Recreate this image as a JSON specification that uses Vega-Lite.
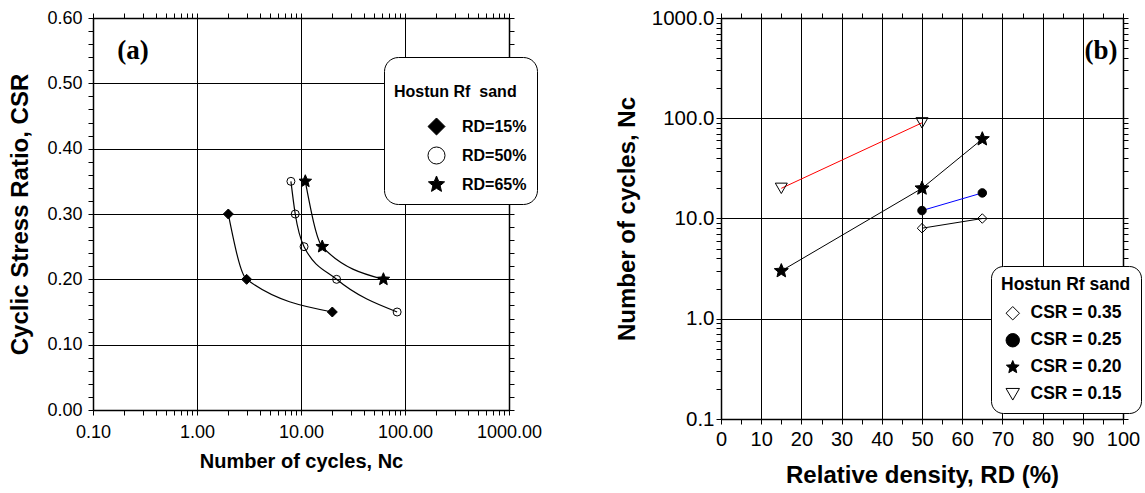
{
  "$schema": "https://vega.github.io/schema/vega-lite/v6.json",
  "padding": {"left": 8, "top": 8, "right": 5, "bottom": 5},
  "config": {
    "font": "Liberation Sans",
    "view": {"stroke": null},
    "axis": {
      "domainColor": "black", "domainWidth": 1.5,
      "tickColor": "black", "tickWidth": 1, "tickSize": 5,
      "gridColor": "black", "gridWidth": 1,
      "labelColor": "black", "titleColor": "black",
      "labelFont": "Liberation Sans", "titleFont": "Liberation Sans",
      "titleFontWeight": "bold", "labelFontWeight": "normal"
    },
    "legend": {
      "labelFont": "Liberation Sans", "titleFont": "Liberation Sans",
      "labelFontWeight": "bold", "titleFontWeight": "bold",
      "labelColor": "black", "titleColor": "black",
      "fillColor": "white", "strokeColor": "black",
      "symbolStrokeColor": "black", "symbolStrokeWidth": 1
    }
  },
  "datasets": {
    "cycles": [
      {"rd": "RD=15%", "nc": 2.0, "csr": 0.30},
      {"rd": "RD=15%", "nc": 3.0, "csr": 0.20},
      {"rd": "RD=15%", "nc": 20, "csr": 0.15},
      {"rd": "RD=50%", "nc": 8.0, "csr": 0.35},
      {"rd": "RD=50%", "nc": 8.8, "csr": 0.30},
      {"rd": "RD=50%", "nc": 10.7, "csr": 0.25},
      {"rd": "RD=50%", "nc": 22, "csr": 0.20},
      {"rd": "RD=50%", "nc": 84, "csr": 0.15},
      {"rd": "RD=65%", "nc": 11, "csr": 0.35},
      {"rd": "RD=65%", "nc": 16, "csr": 0.25},
      {"rd": "RD=65%", "nc": 62, "csr": 0.20}
    ],
    "density": [
      {"csr": "CSR = 0.35", "rd": 50, "nc": 8},
      {"csr": "CSR = 0.35", "rd": 65, "nc": 10},
      {"csr": "CSR = 0.25", "rd": 50, "nc": 12},
      {"csr": "CSR = 0.25", "rd": 65, "nc": 18},
      {"csr": "CSR = 0.20", "rd": 15, "nc": 3},
      {"csr": "CSR = 0.20", "rd": 50, "nc": 20},
      {"csr": "CSR = 0.20", "rd": 65, "nc": 62},
      {"csr": "CSR = 0.15", "rd": 15, "nc": 20},
      {"csr": "CSR = 0.15", "rd": 50, "nc": 90}
    ]
  },
  "resolve": {
    "scale": {"shape": "independent", "fill": "independent", "stroke": "independent", "size": "independent", "color": "independent"},
    "legend": {"shape": "independent", "fill": "independent", "stroke": "independent", "size": "independent", "color": "independent"}
  },
  "spacing": 73,
  "hconcat": [
    {
      "width": 416,
      "height": 392,
      "data": {"name": "cycles"},
      "layer": [
        {
          "mark": {"type": "line", "interpolate": "monotone", "color": "black", "strokeWidth": 1.2},
          "encoding": {
            "x": {
              "field": "nc", "type": "quantitative",
              "scale": {"type": "log", "domain": [0.1, 1000], "nice": false},
              "axis": {
                "orient": "bottom",
                "values": [0.1,0.2,0.3,0.4,0.5,0.6,0.7,0.8,0.9,1,2,3,4,5,6,7,8,9,10,20,30,40,50,60,70,80,90,100,200,300,400,500,600,700,800,900,1000],
                "labelExpr": "abs(log(datum.value)/LN10 - round(log(datum.value)/LN10)) < 0.001 ? format(datum.value, '.2f') : ''",
                "grid": true,
                "gridOpacity": {"condition": {"test": "abs(log(datum.value)/LN10 - round(log(datum.value)/LN10)) < 0.001", "value": 1}, "value": 0},
                "encode": {"ticks": {"update": {"y2": {"value": -5}}}},
                "labelFontSize": 18, "labelPadding": 8, "labelFlush": false, "labelOverlap": false,
                "title": "Number of cycles, Nc", "titleFontSize": 20, "titlePadding": 10
              }
            },
            "y": {
              "field": "csr", "type": "quantitative",
              "scale": {"domain": [0, 0.6], "nice": false, "zero": false},
              "axis": {
                "orient": "left",
                "values": [0,0.02,0.04,0.06,0.08,0.1,0.12,0.14,0.16,0.18,0.2,0.22,0.24,0.26,0.28,0.3,0.32,0.34,0.36,0.38,0.4,0.42,0.44,0.46,0.48,0.5,0.52,0.54,0.56,0.58,0.6],
                "labelExpr": "abs(datum.value*10 - round(datum.value*10)) < 0.001 ? format(datum.value, '.2f') : ''",
                "grid": true,
                "gridOpacity": {"condition": {"test": "abs(datum.value*10 - round(datum.value*10)) < 0.001", "value": 1}, "value": 0},
                "encode": {"ticks": {"update": {"x2": {"value": 5}}}},
                "labelFontSize": 18, "labelPadding": 6, "labelFlush": false, "labelOverlap": false,
                "title": "Cyclic Stress Ratio, CSR", "titleFontSize": 24, "titlePadding": 14
              }
            },
            "detail": {"field": "rd", "type": "nominal"}
          }
        },
        {
          "mark": {"type": "point", "filled": true, "opacity": 1, "strokeWidth": 1},
          "encoding": {
            "x": {
              "field": "nc", "type": "quantitative",
              "axis": {
                "orient": "top", "labels": false, "grid": false, "title": null,
                "values": [0.1,0.2,0.3,0.4,0.5,0.6,0.7,0.8,0.9,1,2,3,4,5,6,7,8,9,10,20,30,40,50,60,70,80,90,100,200,300,400,500,600,700,800,900,1000],
                "encode": {"ticks": {"update": {"y2": {"value": 5}}}}
              }
            },
            "y": {
              "field": "csr", "type": "quantitative",
              "axis": {
                "orient": "right", "labels": false, "grid": false, "title": null,
                "values": [0,0.02,0.04,0.06,0.08,0.1,0.12,0.14,0.16,0.18,0.2,0.22,0.24,0.26,0.28,0.3,0.32,0.34,0.36,0.38,0.4,0.42,0.44,0.46,0.48,0.5,0.52,0.54,0.56,0.58,0.6],
                "encode": {"ticks": {"update": {"x2": {"value": -5}}}}
              }
            },
            "shape": {
              "field": "rd", "type": "nominal",
              "scale": {"domain": ["RD=15%", "RD=50%", "RD=65%"], "range": ["diamond", "circle", "M0,-1L0.265,-0.364L0.951,-0.309L0.428,0.139L0.588,0.809L0,0.45L-0.588,0.809L-0.428,0.139L-0.951,-0.309L-0.265,-0.364Z"]},
              "legend": {
                "title": ["", "Hostun Rf\u00a0 sand"], "titleLineHeight": 17,
                "orient": "none", "legendX": 291, "legendY": 39,
                "padding": 10, "cornerRadius": 14,
                "titleFontSize": 16, "labelFontSize": 16, "titlePadding": 17,
                "rowPadding": 6, "symbolSize": 290, "symbolOffset": 33, "labelOffset": 16
              }
            },
            "fill": {
              "field": "rd", "type": "nominal",
              "scale": {"domain": ["RD=15%", "RD=50%", "RD=65%"], "range": ["black", "transparent", "black"]},
              "legend": {
                "title": ["", "Hostun Rf\u00a0 sand"], "titleLineHeight": 17,
                "orient": "none", "legendX": 291, "legendY": 39,
                "padding": 10, "cornerRadius": 14,
                "titleFontSize": 16, "labelFontSize": 16, "titlePadding": 17,
                "rowPadding": 6, "symbolSize": 290, "symbolOffset": 33, "labelOffset": 16
              }
            },
            "stroke": {
              "field": "rd", "type": "nominal",
              "scale": {"domain": ["RD=15%", "RD=50%", "RD=65%"], "range": ["black", "black", "black"]},
              "legend": {
                "title": ["", "Hostun Rf\u00a0 sand"], "titleLineHeight": 17,
                "orient": "none", "legendX": 291, "legendY": 39,
                "padding": 10, "cornerRadius": 14,
                "titleFontSize": 16, "labelFontSize": 16, "titlePadding": 17,
                "rowPadding": 6, "symbolSize": 290, "symbolOffset": 33, "labelOffset": 16
              }
            },
            "size": {
              "field": "rd", "type": "nominal",
              "scale": {"type": "ordinal", "domain": ["RD=65%", "RD=50%", "RD=15%"], "range": [175, 64, 100]},
              "legend": null
            }
          }
        },
        {
          "data": {"values": [{"tag": "(a)"}]},
          "mark": {"type": "text", "font": "Liberation Serif", "fontWeight": "bold", "fontSize": 27, "baseline": "middle", "align": "center"},
          "encoding": {
            "x": {"datum": 0.243, "type": "quantitative", "axis": null},
            "y": {"datum": 0.55, "type": "quantitative", "axis": null},
            "text": {"field": "tag"}
          }
        }
      ]
    },
    {
      "width": 402,
      "height": 401,
      "data": {"name": "density"},
      "layer": [
        {
          "mark": {"type": "line", "strokeWidth": 1},
          "encoding": {
            "x": {
              "field": "rd", "type": "quantitative",
              "scale": {"domain": [0, 100], "nice": false},
              "axis": {
                "orient": "bottom",
                "values": [0,5,10,15,20,25,30,35,40,45,50,55,60,65,70,75,80,85,90,95,100],
                "labelExpr": "datum.value % 10 == 0 ? format(datum.value, 'd') : ''",
                "grid": true,
                "gridOpacity": {"condition": {"test": "datum.value % 10 == 0", "value": 1}, "value": 0},
                "encode": {"ticks": {"update": {"y2": {"value": -5}}}},
                "labelFontSize": 20, "labelPadding": 5, "labelFlush": false, "labelOverlap": false,
                "title": "Relative density, RD (%)", "titleFontSize": 24, "titlePadding": 14
              }
            },
            "y": {
              "field": "nc", "type": "quantitative",
              "scale": {"type": "log", "domain": [0.1, 1000], "nice": false},
              "axis": {
                "orient": "left",
                "values": [0.1,0.2,0.3,0.4,0.5,0.6,0.7,0.8,0.9,1,2,3,4,5,6,7,8,9,10,20,30,40,50,60,70,80,90,100,200,300,400,500,600,700,800,900,1000],
                "labelExpr": "abs(log(datum.value)/LN10 - round(log(datum.value)/LN10)) < 0.001 ? format(datum.value, '.1f') : ''",
                "grid": true,
                "gridOpacity": {"condition": {"test": "abs(log(datum.value)/LN10 - round(log(datum.value)/LN10)) < 0.001", "value": 1}, "value": 0},
                "encode": {"ticks": {"update": {"x2": {"value": 5}}}},
                "labelFontSize": 20.5, "labelPadding": 2, "labelFlush": false, "labelOverlap": false,
                "title": "Number of cycles, Nc", "titleFontSize": 24, "titlePadding": 12
              }
            },
            "color": {
              "field": "csr", "type": "nominal",
              "scale": {"domain": ["CSR = 0.15", "CSR = 0.20", "CSR = 0.25", "CSR = 0.35"], "range": ["red", "black", "blue", "black"]},
              "legend": null
            }
          }
        },
        {
          "mark": {"type": "point", "filled": true, "opacity": 1, "strokeWidth": 1},
          "encoding": {
            "x": {
              "field": "rd", "type": "quantitative",
              "axis": {
                "orient": "top", "labels": false, "grid": false, "title": null,
                "values": [0,5,10,15,20,25,30,35,40,45,50,55,60,65,70,75,80,85,90,95,100],
                "encode": {"ticks": {"update": {"y2": {"value": 5}}}}
              }
            },
            "y": {
              "field": "nc", "type": "quantitative",
              "axis": {
                "orient": "right", "labels": false, "grid": false, "title": null,
                "values": [0.1,0.2,0.3,0.4,0.5,0.6,0.7,0.8,0.9,1,2,3,4,5,6,7,8,9,10,20,30,40,50,60,70,80,90,100,200,300,400,500,600,700,800,900,1000],
                "encode": {"ticks": {"update": {"x2": {"value": -5}}}}
              }
            },
            "shape": {
              "field": "csr", "type": "nominal",
              "scale": {"domain": ["CSR = 0.35", "CSR = 0.25", "CSR = 0.20", "CSR = 0.15"], "range": ["diamond", "circle", "M0,-1L0.265,-0.364L0.951,-0.309L0.428,0.139L0.588,0.809L0,0.45L-0.588,0.809L-0.428,0.139L-0.951,-0.309L-0.265,-0.364Z", "triangle-down"]},
              "legend": {
                "title": "Hostun Rf sand",
                "orient": "none", "legendX": 270, "legendY": 248,
                "padding": 10, "cornerRadius": 12,
                "titleFontSize": 17.5, "labelFontSize": 17.5, "titlePadding": 11,
                "rowPadding": 8, "symbolSize": 180, "symbolOffset": 3, "labelOffset": 9,
                "encode": {"legend": {"update": {"strokeWidth": {"value": 2}}}}
              }
            },
            "fill": {
              "field": "csr", "type": "nominal",
              "scale": {"domain": ["CSR = 0.35", "CSR = 0.25", "CSR = 0.20", "CSR = 0.15"], "range": ["transparent", "black", "black", "transparent"]},
              "legend": {
                "title": "Hostun Rf sand",
                "orient": "none", "legendX": 270, "legendY": 248,
                "padding": 10, "cornerRadius": 12,
                "titleFontSize": 17.5, "labelFontSize": 17.5, "titlePadding": 11,
                "rowPadding": 8, "symbolSize": 180, "symbolOffset": 3, "labelOffset": 9,
                "encode": {"legend": {"update": {"strokeWidth": {"value": 2}}}}
              }
            },
            "stroke": {
              "field": "csr", "type": "nominal",
              "scale": {"domain": ["CSR = 0.35", "CSR = 0.25", "CSR = 0.20", "CSR = 0.15"], "range": ["black", "black", "black", "black"]},
              "legend": {
                "title": "Hostun Rf sand",
                "orient": "none", "legendX": 270, "legendY": 248,
                "padding": 10, "cornerRadius": 12,
                "titleFontSize": 17.5, "labelFontSize": 17.5, "titlePadding": 11,
                "rowPadding": 8, "symbolSize": 180, "symbolOffset": 3, "labelOffset": 9,
                "encode": {"legend": {"update": {"strokeWidth": {"value": 2}}}}
              }
            },
            "size": {
              "field": "csr", "type": "nominal",
              "scale": {"type": "ordinal", "domain": ["CSR = 0.15", "CSR = 0.20", "CSR = 0.25", "CSR = 0.35"], "range": [144, 217, 72, 90]},
              "legend": null
            }
          }
        },
        {
          "data": {"values": [{"tag": "(b)"}]},
          "mark": {"type": "text", "font": "Liberation Serif", "fontWeight": "bold", "fontSize": 27, "baseline": "middle", "align": "center"},
          "encoding": {
            "x": {"datum": 94.5, "type": "quantitative", "axis": null},
            "y": {"datum": 468, "type": "quantitative", "axis": null},
            "text": {"field": "tag"}
          }
        }
      ]
    }
  ]
}
